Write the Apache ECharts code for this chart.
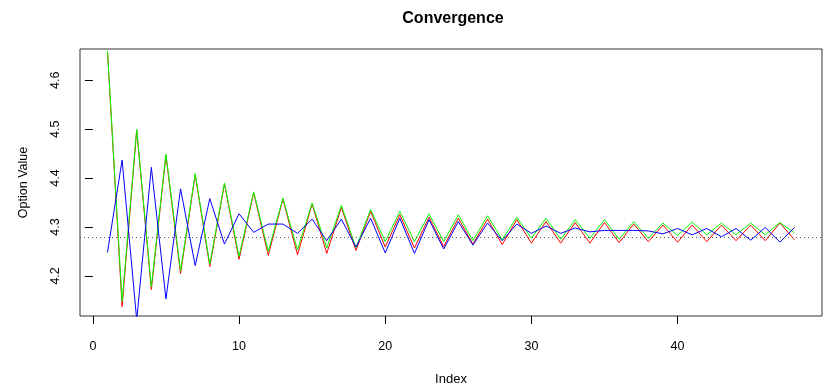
<!DOCTYPE html>
<html>
<head>
<meta charset="utf-8">
<script src="https://cdn.jsdelivr.net/npm/echarts@6/dist/echarts.min.js"></script>
<style>
  html, body { margin: 0; padding: 0; background: #fff; }
  #main { width: 825px; height: 387px; }
</style>
</head>
<body>
<div id="main"></div>
<script>
// step index
var idx = [1, 2, 3, 4, 5, 6, 7, 8, 9, 10, 11, 12, 13, 14, 15, 16, 17, 18, 19, 20,
  21, 22, 23, 24, 25, 26, 27, 28, 29, 30, 31, 32, 33, 34, 35, 36, 37, 38, 39, 40,
  41, 42, 43, 44, 45, 46, 47, 48];

var redVals = [4.660, 4.137, 4.498, 4.172, 4.446, 4.205, 4.407, 4.219, 4.388, 4.234,
  4.370, 4.242, 4.357, 4.243, 4.347, 4.246, 4.340, 4.252, 4.332, 4.259,
  4.325, 4.257, 4.320, 4.260, 4.318, 4.265, 4.316, 4.264, 4.315, 4.267,
  4.311, 4.267, 4.309, 4.267, 4.309, 4.268, 4.306, 4.270, 4.304, 4.269,
  4.304, 4.270, 4.304, 4.272, 4.304, 4.272, 4.308, 4.274];

var greenVals = [4.660, 4.148, 4.500, 4.178, 4.449, 4.210, 4.409, 4.224, 4.390, 4.240,
  4.372, 4.250, 4.359, 4.253, 4.349, 4.257, 4.344, 4.258, 4.336, 4.270,
  4.332, 4.270, 4.327, 4.270, 4.325, 4.272, 4.323, 4.274, 4.320, 4.277,
  4.318, 4.275, 4.315, 4.277, 4.315, 4.275, 4.311, 4.277, 4.308, 4.283,
  4.310, 4.284, 4.308, 4.284, 4.308, 4.284, 4.309, 4.288];

var blueVals = [4.248, 4.437, 4.110, 4.422, 4.153, 4.378, 4.221, 4.358, 4.265, 4.327,
  4.289, 4.306, 4.306, 4.287, 4.316, 4.272, 4.316, 4.259, 4.318, 4.247,
  4.318, 4.246, 4.315, 4.255, 4.311, 4.263, 4.308, 4.272, 4.306, 4.287,
  4.302, 4.287, 4.298, 4.290, 4.293, 4.293, 4.293, 4.292, 4.286, 4.297,
  4.284, 4.297, 4.280, 4.297, 4.273, 4.299, 4.269, 4.299];

var refValue = 4.284;

var xTicks = [0, 10, 20, 30, 40];
var yTicks = [4.2, 4.3, 4.4, 4.5, 4.6];

function pairs(vals) {
  var out = [];
  for (var i = 0; i < idx.length; i++) out.push([idx[i], vals[i]]);
  return out;
}

var chart = echarts.init(document.getElementById('main'));
var font = 'Liberation Sans, Arial, sans-serif';

var option = {
  animation: false,
  backgroundColor: '#fff',
  title: {
    text: 'Convergence',
    left: 448,
    textAlign: 'center',
    top: 6,
    textStyle: { fontFamily: font, fontSize: 16, fontWeight: 'bold', color: '#000' }
  },
  grid: {
    left: 80, right: 3, top: 49, bottom: 71,
    outerBoundsMode: 'none',
    containLabel: false,
    show: true, borderColor: '#333', borderWidth: 1
  },
  xAxis: {
    type: 'value',
    min: -0.88, max: 49.88,
    name: 'Index',
    nameLocation: 'middle',
    nameGap: 57,
    nameTextStyle: { fontFamily: font, fontSize: 13, color: '#000' },
    axisLine: { show: false },
    splitLine: { show: false },
    axisTick: { show: true, length: 8, lineStyle: { color: '#000' }, customValues: xTicks },
    axisLabel: { fontFamily: font, fontSize: 12.5, color: '#000', margin: 24, customValues: xTicks }
  },
  yAxis: {
    type: 'value',
    min: 4.118, max: 4.664,
    name: 'Option Value',
    nameLocation: 'middle',
    nameGap: 50,
    nameTextStyle: { fontFamily: font, fontSize: 12.5, color: '#000' },
    axisLine: { show: false },
    splitLine: { show: false },
    axisTick: { show: true, length: 8, lineStyle: { color: '#000' }, customValues: yTicks },
    axisLabel: {
      fontFamily: font, fontSize: 12.5, color: '#000', margin: 18, rotate: 90,
      customValues: yTicks,
      formatter: function (v) { return v.toFixed(1); }
    }
  },
  series: [
    {
      type: 'line', data: pairs(redVals), showSymbol: false,
      lineStyle: { color: '#ff0000', width: 1 }, itemStyle: { color: '#ff0000' },
      markLine: {
        silent: true, symbol: 'none', label: { show: false },
        lineStyle: { color: '#555', type: [1, 3], width: 1 },
        data: [{ yAxis: refValue }]
      }
    },
    {
      type: 'line', data: pairs(greenVals), showSymbol: false,
      lineStyle: { color: '#00ff00', width: 1 }, itemStyle: { color: '#00ff00' }
    },
    {
      type: 'line', data: pairs(blueVals), showSymbol: false,
      lineStyle: { color: '#0000ff', width: 1 }, itemStyle: { color: '#0000ff' }
    }
  ]
};

chart.setOption(option);
window.addEventListener('resize', chart.resize);
</script>
</body>
</html>
